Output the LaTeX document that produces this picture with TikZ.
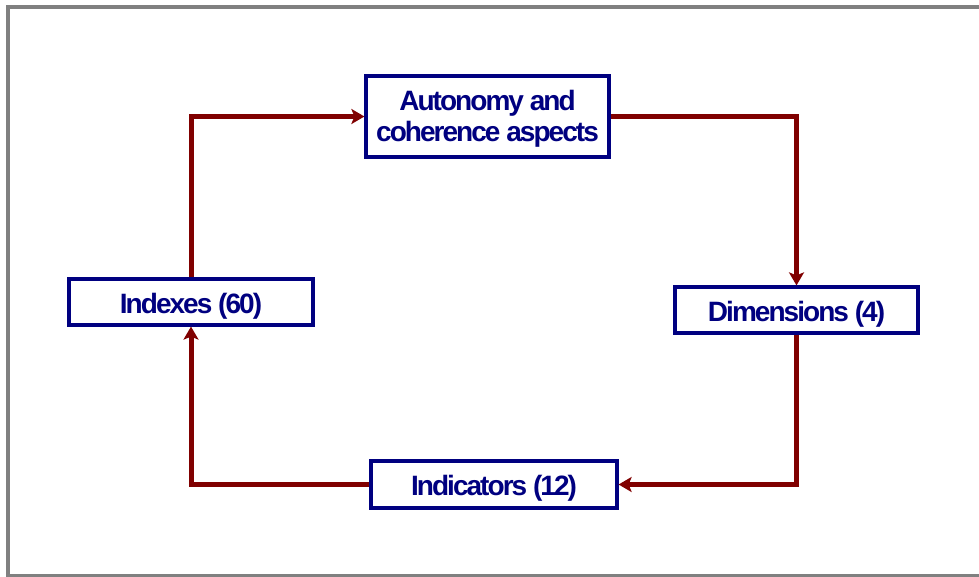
\documentclass[tikz,border=0pt]{standalone}
\usepackage{fontspec}
\newfontfamily\boxfont[LetterSpace=-7]{Liberation Sans}
\usetikzlibrary{arrows.meta}
\definecolor{framegray}{RGB}{128,128,128}
\definecolor{boxnavy}{RGB}{0,0,128}
\definecolor{linkred}{RGB}{128,0,0}
\tikzset{
  box/.style={draw=boxnavy, line width=3.2pt, fill=white, inner sep=0pt,
    text=boxnavy, align=center, text height=22pt, text depth=0pt,
    font=\boxfont\bfseries\fontsize{28}{31}\selectfont},
  link/.style={draw=linkred, line width=5pt, line join=miter,
    -{Stealth[length=13pt,width=15pt,inset=3pt]}}
}
\begin{document}
\begin{tikzpicture}[x=1pt,y=-1pt]
\useasboundingbox (0,0) rectangle (979,576);
\begin{scope}
\clip (0,0) rectangle (979,576);
\draw[framegray, line width=3.5pt] (8,7) rectangle (1000,576);
\end{scope}
\node[box, minimum width=243pt, minimum height=81pt, text height=53pt, text depth=4pt] (auto) at (487.5,116.5) {Autonomy and\\coherence aspects};
\node[box, minimum width=243pt, minimum height=46pt] (dim) at (796.5,310) {Dimensions (4)};
\node[box, minimum width=244pt, minimum height=46pt] (idx) at (191,302) {Indexes (60)};
\node[box, minimum width=246pt, minimum height=47pt] (ind) at (494,484.5) {Indicators (12)};
\draw[link] (idx.north) |- (auto.west);
\draw[link] (auto.east) -| (dim.north);
\draw[link] (dim.south) |- (ind.east);
\draw[link] (ind.west) -| (idx.south);
\end{tikzpicture}
\end{document}
